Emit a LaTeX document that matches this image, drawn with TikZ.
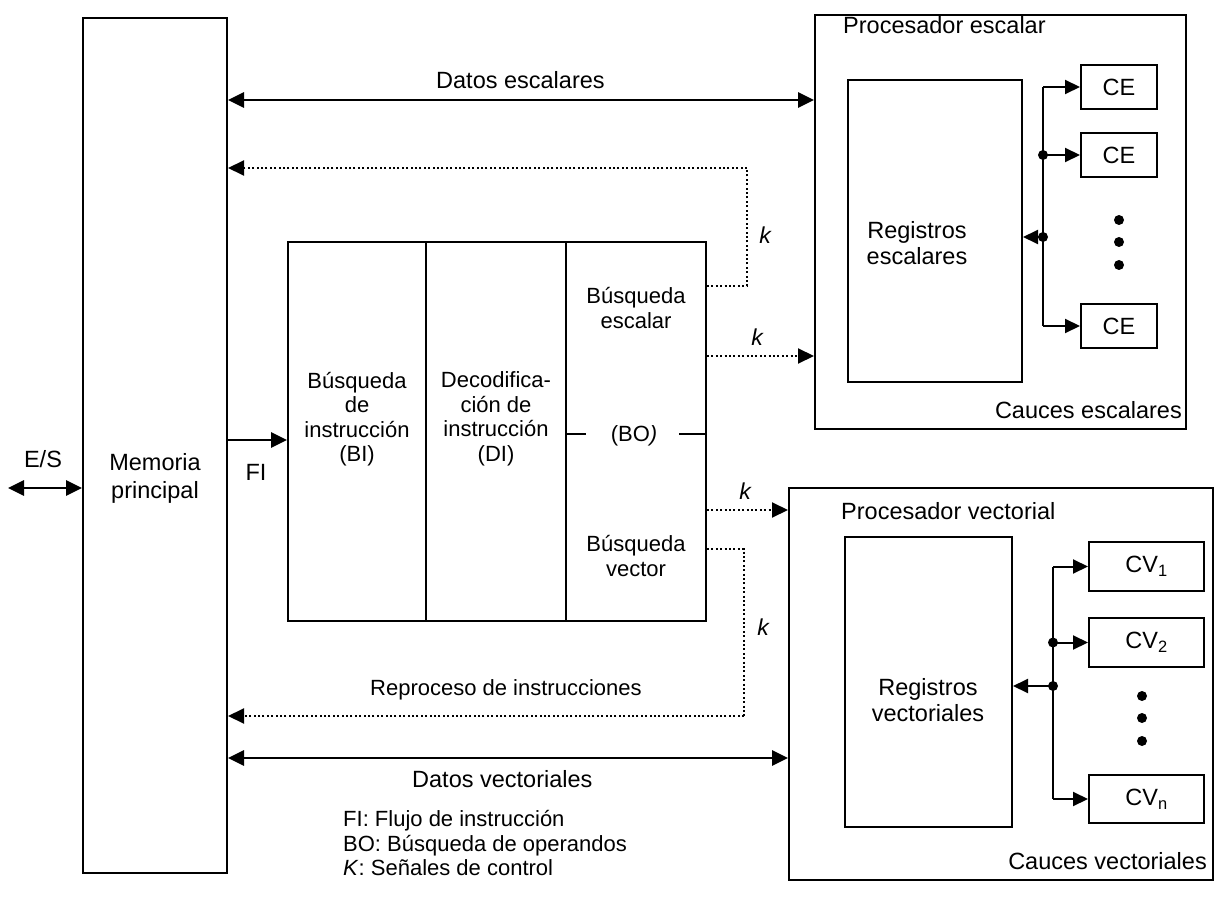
\documentclass[tikz,border=0pt]{standalone}
\usepackage{fontspec}
\setmainfont{Liberation Sans}
\usetikzlibrary{arrows.meta}
\begin{document}
\begin{tikzpicture}[x=1pt,y=-1pt,
  every node/.style={font=\fontsize{22}{24.5}\selectfont},
  box/.style={draw, line width=2pt, inner sep=0pt},
  txt/.style={align=center, inner sep=0pt},
  tip/.style={-{Triangle[length=16pt,width=15pt]}},
  solidarrow/.style={line width=2.8pt, tip},
  dblarrow/.style={line width=2.8pt, {Triangle[length=16pt,width=15pt]}-{Triangle[length=16pt,width=15pt]}},
  dotline/.style={line width=2pt, dash pattern=on 2pt off 2.4pt},
  dotarrow/.style={dotline, tip},
  busline/.style={line width=2pt},
  busarrow/.style={line width=2pt, -{Triangle[length=15pt,width=14pt]}},
  junction/.style={circle, fill, inner sep=0pt, minimum size=10pt},
  ellip/.style={circle, fill, inner sep=0pt, minimum size=10pt},
  klabel/.style={font=\fontsize{23}{24.5}\selectfont\itshape, inner sep=0pt},
  big/.style={font=\fontsize{23.5}{25.5}\selectfont},
  ]
\useasboundingbox (0,0) rectangle (1218,901);

% Main memory
\node[box, minimum width=144pt, minimum height=855pt] (mem) at (155,445.5) {};
\node[txt, big, font=\fontsize{23.5}{28}\selectfont] (memtxt) at (155,478) {Memoria\\principal};

% Instruction pipeline stages
\node[box, minimum width=138pt, minimum height=379pt] (bi) at (357,431.5) {};
\node[box, minimum width=140pt, minimum height=379pt] (di) at (496,431.5) {};
\node[box, minimum width=140pt, minimum height=379pt] (bo) at (636,431.5) {};
\node[txt] (bitxt) at (357,419) {Búsqueda\\de\\instrucción\\(BI)};
\node[txt] (ditxt) at (496,419) {Decodifica-\\ción de\\instrucción\\(DI)};
\node[txt] (bestxt) at (636,308) {Búsqueda\\escalar};
\node[txt] (botxt) at (634,436) {(BO\textit{)}};
\node[txt] (bvtxt) at (636,556) {Búsqueda\\vector};
\draw[line width=2pt] (bo.west |- 0,434) -- ++(21,0);
\draw[line width=2pt] (bo.east |- 0,434) -- ++(-28,0);

% Scalar processor
\node[box, minimum width=371pt, minimum height=414pt] (sp) at (1000.5,222) {};
\node[txt, anchor=west, big] (sptxt) at (843,25) {Procesador escalar};
\node[txt, anchor=east, big] (cetxt) at (1182,410) {Cauces escalares};
\node[box, minimum width=174pt, minimum height=302pt] (rs) at (935,231) {};
\node[txt, big] (rstxt) at (917,243) {Registros\\escalares};
\node[box, minimum width=76pt, minimum height=44pt, big] (ce1) at (1119,87) {CE};
\node[box, minimum width=76pt, minimum height=44pt, big] (ce2) at (1119,155) {CE};
\node[box, minimum width=76pt, minimum height=44pt, big] (ce3) at (1119,326) {CE};
\coordinate (sbt) at (ce1.west -| 1043,0);
\coordinate (sbb) at (ce3.west -| 1043,0);
\node[junction] (sj1) at (ce2.west -| 1043,0) {};
\node[junction] (sj2) at (1043,237) {};
\draw[busline] (sbt) -- (sbb);
\draw[busarrow] (sbt) -- (ce1.west);
\draw[busarrow] (sj1.center) -- (ce2.west);
\draw[busarrow] (sbb) -- (ce3.west);
\draw[busarrow] (sj2.center) -- (rs.east |- sj2);
\node[ellip] (sd1) at (1119,220) {};
\node[ellip] (sd2) at (1119,242) {};
\node[ellip] (sd3) at (1119,265) {};

% Vector processor
\node[box, minimum width=424pt, minimum height=392pt] (vp) at (1001,684) {};
\node[txt, anchor=west, big] (vptxt) at (841,511) {Procesador vectorial};
\node[txt, anchor=east, big] (cvtxt) at (1207,861) {Cauces vectoriales};
\node[box, minimum width=167pt, minimum height=290pt] (rv) at (928.5,682) {};
\node[txt, big] (rvtxt) at (928,700) {Registros\\vectoriales};
\node[box, minimum width=115pt, minimum height=49pt, big] (cv1) at (1146.5,566.5) {CV\textsubscript{1}};
\node[box, minimum width=115pt, minimum height=49pt, big] (cv2) at (1146.5,642.5) {CV\textsubscript{2}};
\node[box, minimum width=115pt, minimum height=48pt, big] (cv3) at (1146.5,799) {CV\textsubscript{n}};
\coordinate (vbt) at (cv1.west -| 1053,0);
\coordinate (vbb) at (cv3.west -| 1053,0);
\node[junction] (vj1) at (cv2.west -| 1053,0) {};
\node[junction] (vj2) at (1053,686) {};
\draw[busline] (vbt) -- (vbb);
\draw[busarrow] (vbt) -- (cv1.west);
\draw[busarrow] (vj1.center) -- (cv2.west);
\draw[busarrow] (vbb) -- (cv3.west);
\draw[busarrow] (vj2.center) -- (rv.east |- vj2);
\node[ellip] (vd1) at (1142,696) {};
\node[ellip] (vd2) at (1142,718) {};
\node[ellip] (vd3) at (1142,741) {};

% Data paths between memory and processors
\draw[dblarrow] (mem.east |- 0,100) -- (sp.west |- 0,100);
\node[txt, big, anchor=west] (dstxt) at (436,80) {Datos escalares};
\draw[dblarrow] (mem.east |- 0,758) -- (vp.west |- 0,758);
\node[txt, big, anchor=west] (dvtxt) at (412,779) {Datos vectoriales};

% Instruction flow and I/O
\draw[solidarrow] (mem.east |- 0,440) -- (bi.west |- 0,440);
\node[txt, big] (fitxt) at (256,472) {FI};
\coordinate (es) at (8,488);
\draw[dblarrow] (es) -- (mem.west |- es);
\node[txt, big] (estxt) at (43,459) {E/S};

% Control signals
\coordinate (c1) at (747,286);
\coordinate (c2) at (747,168);
\draw[dotline] (bo.east |- c1) -- (c1) -- (c2);
\draw[dotarrow] (c2) -- (mem.east |- c2);
\node[klabel] (k1) at (765,235) {k};
\draw[dotarrow] (bo.east |- 0,356) -- (sp.west |- 0,356);
\node[klabel] (k2) at (757,337) {k};
\draw[dotarrow] (bo.east |- 0,510) -- (vp.west |- 0,510);
\node[klabel] (k3) at (745,491) {k};
\coordinate (c3) at (744,549);
\coordinate (c4) at (744,716);
\draw[dotline] (bo.east |- c3) -- (c3) -- (c4);
\draw[dotarrow] (c4) -- (mem.east |- c4);
\node[klabel] (k4) at (763,627) {k};
\node[txt, anchor=west] (rptxt) at (370,690) {Reproceso de instrucciones};

% Legend
\node[txt, anchor=west, align=left] (legend) at (343,843) {FI: Flujo de instrucción\\BO: Búsqueda de operandos\\\textit{K}: Señales de control};

\end{tikzpicture}
\end{document}
